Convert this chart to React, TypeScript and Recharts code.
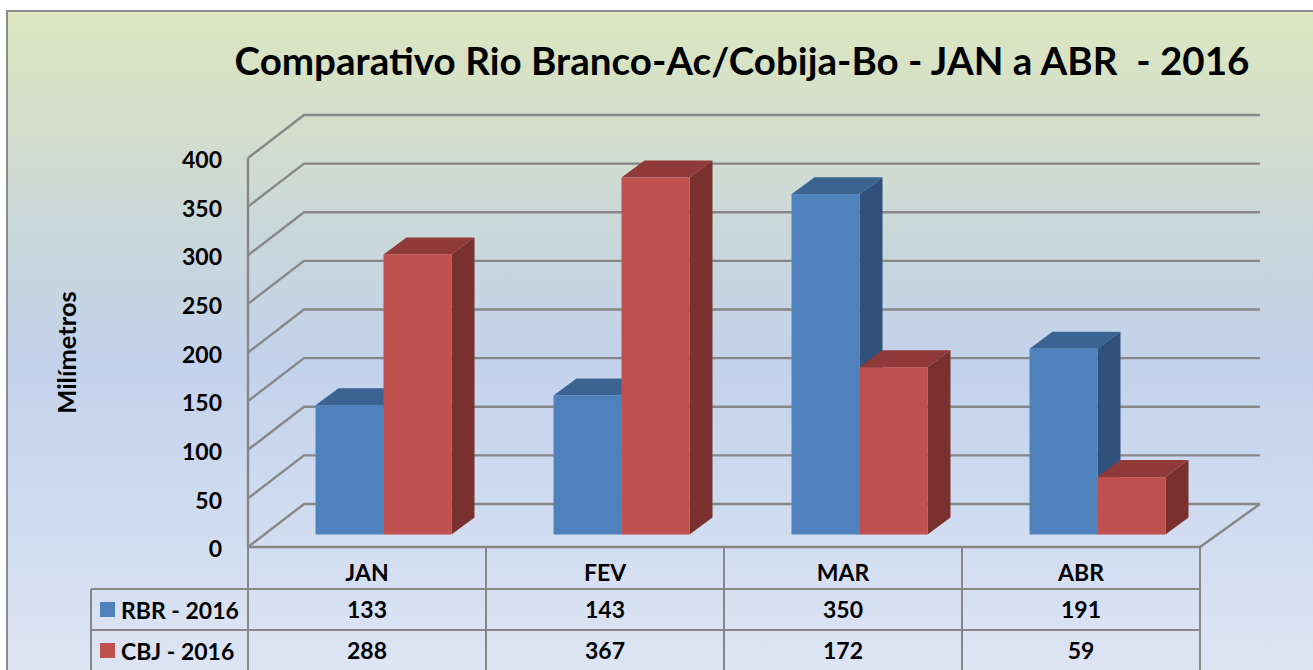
import React from 'react';
import { ComposedChart, Bar, XAxis, YAxis, CartesianGrid, Legend } from 'recharts';

const months = ['JAN', 'FEV', 'MAR', 'ABR'];
const rbr2016 = [133, 143, 350, 191];
const cbj2016 = [288, 367, 172, 59];
const yTicks = [0, 50, 100, 150, 200, 250, 300, 350, 400];

const title = 'Comparativo Rio Branco-Ac/Cobija-Bo - JAN a ABR  - 2016';
const RBR_NAME = 'RBR - 2016';
const CBJ_NAME = 'CBJ - 2016';

const data = months.map((name, i) => ({ name, rbr: rbr2016[i], cbj: cbj2016[i] }));

const FONT = 'Lato, sans-serif';
const LINE = '#878787';
const BLUE = { front: '#4f81bd', top: '#3b6493', side: '#30517b' };
const RED = { front: '#c0504d', top: '#8f3a38', side: '#7a302e' };

// 3d look of the excel chart
const WALL_DX = 56;
const WALL_DY = 43;
const BAR_DX = 23;
const BAR_DY = 17;
const BAR_SHIFT_X = 16.5;
const BAR_SHIFT_Y = 12.5;
const BAND = 238;

function makeBar(c: { front: string; top: string; side: string }) {
    return (props: any) => {
        const x = props.x + BAR_SHIFT_X;
        const y = props.y - BAR_SHIFT_Y;
        const w = props.width;
        const h = props.height;
        return (
            <g>
                <polygon points={`${x},${y} ${x + BAR_DX},${y - BAR_DY} ${x + w + BAR_DX},${y - BAR_DY} ${x + w},${y}`} fill={c.top} />
                <polygon points={`${x + w},${y} ${x + w + BAR_DX},${y - BAR_DY} ${x + w + BAR_DX},${y + h - BAR_DY} ${x + w},${y + h}`} fill={c.side} />
                <rect x={x} y={y} width={w} height={h} fill={c.front} />
            </g>
        );
    };
}

function wallLine(props: any) {
    const { x1, x2, y1, index } = props;
    const back = y1 - WALL_DY;
    const pts = `${x1},${y1} ${x1 + WALL_DX},${back} ${x2 + 60},${back}`;
    const isFloor = Math.abs(y1 - 547) < 1;
    return (
        <g key={`wall-${index}`}>
            <polyline points={pts} fill="none" stroke={LINE} strokeWidth={2.4} />
            {isFloor && <line x1={x2} y1={y1} x2={x2 + 60} y2={back} stroke={LINE} strokeWidth={2.4} />}
        </g>
    );
}

function TableTick(props: any) {
    const { x, payload, index } = props;
    const i = months.indexOf(payload.value);
    const left = x - BAND / 2;
    const right = x + BAND / 2;
    const textProps = { x, textAnchor: 'middle' as const, fontFamily: FONT, fontWeight: 700, fontSize: 23, fill: '#000' };
    return (
        <g key={index}>
            <line x1={left} y1={547} x2={left} y2={670} stroke={LINE} strokeWidth={2} />
            <line x1={right} y1={547} x2={right} y2={670} stroke={LINE} strokeWidth={2} />
            <line x1={i === 0 ? 91 : left} y1={589} x2={right} y2={589} stroke={LINE} strokeWidth={2} />
            <line x1={i === 0 ? 91 : left} y1={630} x2={right} y2={630} stroke={LINE} strokeWidth={2} />
            {i === 0 && <line x1={91} y1={589} x2={91} y2={670} stroke={LINE} strokeWidth={2} />}
            <text {...textProps} y={581}>{payload.value}</text>
            <text {...textProps} y={618}>{rbr2016[i]}</text>
            <text {...textProps} y={659}>{cbj2016[i]}</text>
        </g>
    );
}

function TableLegend(props: any) {
    return (
        <div style={{ fontFamily: FONT, fontWeight: 700, fontSize: 23, color: '#000' }}>
            {props.payload.map((item: any) => (
                <div key={item.value} style={{ display: 'flex', alignItems: 'center', height: 41 }}>
                    <span style={{ width: 15, height: 15, background: item.color, marginRight: 6 }} />
                    <span>{item.value}</span>
                </div>
            ))}
        </div>
    );
}

export default function App() {
    return (
        <div style={{ position: 'absolute', left: 0, top: 0, width: 1313, height: 670, overflow: 'hidden', background: '#fff' }}>
            <div
                style={{
                    position: 'absolute',
                    left: 6,
                    top: 10,
                    width: 1330,
                    height: 680,
                    boxSizing: 'border-box',
                    border: '2px solid #8c8c8c',
                    background: 'linear-gradient(180deg, #dde6bf 0%, #c9d6dc 35%, #c3d2ec 52%, #dfe6f4 100%)',
                }}
            />
            <div style={{ position: 'absolute', left: 0, top: 0 }}>
                <ComposedChart
                    width={1313}
                    height={670}
                    data={data}
                    barGap={0}
                    margin={{ top: 158, right: 113, bottom: 0, left: 188 }}
                >
                    <CartesianGrid vertical={false} horizontal={wallLine} />
                    <XAxis
                        dataKey="name"
                        height={123}
                        interval={0}
                        tickLine={false}
                        axisLine={{ stroke: LINE, strokeWidth: 2.4 }}
                        tick={TableTick}
                    />
                    <YAxis
                        width={60}
                        domain={[0, 400]}
                        ticks={yTicks}
                        interval={0}
                        tickLine={false}
                        tickSize={6}
                        tickMargin={20}
                        axisLine={{ stroke: LINE, strokeWidth: 2.4 }}
                        tick={{ fontFamily: FONT, fontWeight: 700, fontSize: 23, fill: '#000', dy: 2 }}
                        label={{
                            value: 'Milímetros',
                            angle: -90,
                            position: 'left',
                            offset: 121,
                            style: { fontFamily: FONT, fontWeight: 700, fontSize: 25.5, fill: '#000', textAnchor: 'middle' },
                        }}
                    />
                    <Legend
                        layout="vertical"
                        align="center"
                        verticalAlign="middle"
                        itemSorter={null}
                        content={TableLegend}
                        wrapperStyle={{ position: 'absolute', left: 100, top: 589, width: 150, bottom: 'auto' }}
                    />
                    <Bar dataKey="rbr" name={RBR_NAME} fill={BLUE.front} barSize={68} shape={makeBar(BLUE)} isAnimationActive={false} />
                    <Bar dataKey="cbj" name={CBJ_NAME} fill={RED.front} barSize={68} shape={makeBar(RED)} isAnimationActive={false} />
                    <text x={742} y={75} textAnchor="middle" fontFamily={FONT} fontWeight={700} fontSize={38.6} fill="#000" style={{ whiteSpace: 'pre' }}>
                        {title}
                    </text>
                </ComposedChart>
            </div>
        </div>
    );
}
